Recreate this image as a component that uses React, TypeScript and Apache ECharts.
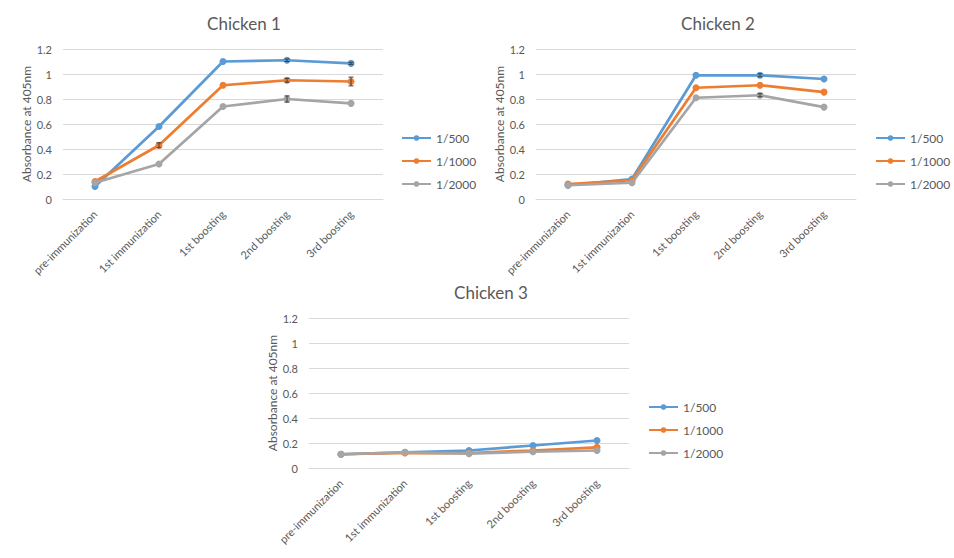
import React, { useEffect, useRef } from "react";
import * as echarts from "echarts";

const categories = ["pre-immunization", "1st immunization", "1st boosting", "2nd boosting", "3rd boosting"];
const seriesNames = ["1/500", "1/1000", "1/2000"];
const chartTitles = ["Chicken 1", "Chicken 2", "Chicken 3"];
const yTicks = { min: 0, max: 1.2, interval: 0.2 };

// Chicken 1
const chicken1_500 = [0.1, 0.58, 1.1, 1.11, 1.085];
const chicken1_1000 = [0.14, 0.43, 0.91, 0.95, 0.94];
const chicken1_2000 = [0.13, 0.28, 0.74, 0.8, 0.765];
const chicken1_500_err = [0, 0, 0, 0.01, 0.008];
const chicken1_1000_err = [0, 0.02, 0, 0.015, 0.035];
const chicken1_2000_err = [0, 0, 0, 0.025, 0];

// Chicken 2
const chicken2_500 = [0.11, 0.16, 0.99, 0.99, 0.96];
const chicken2_1000 = [0.12, 0.15, 0.89, 0.91, 0.855];
const chicken2_2000 = [0.11, 0.13, 0.81, 0.83, 0.735];
const chicken2_500_err = [0, 0, 0, 0.012, 0];
const chicken2_1000_err = [0, 0, 0, 0, 0];
const chicken2_2000_err = [0, 0, 0, 0.012, 0];

// Chicken 3
const chicken3_500 = [0.11, 0.125, 0.14, 0.18, 0.22];
const chicken3_1000 = [0.11, 0.12, 0.12, 0.14, 0.165];
const chicken3_2000 = [0.11, 0.125, 0.115, 0.13, 0.14];
const chicken3_500_err = [0, 0, 0, 0, 0];
const chicken3_1000_err = [0, 0, 0, 0, 0];
const chicken3_2000_err = [0, 0, 0, 0, 0];

const colors = ["#5B9BD5", "#ED7D31", "#A5A5A5"];
const TEXT = "#595959";
const FONT = "Lato, 'Open Sans', sans-serif";

const chartData = [
  { values: [chicken1_500, chicken1_1000, chicken1_2000], errs: [chicken1_500_err, chicken1_1000_err, chicken1_2000_err] },
  { values: [chicken2_500, chicken2_1000, chicken2_2000], errs: [chicken2_500_err, chicken2_1000_err, chicken2_2000_err] },
  { values: [chicken3_500, chicken3_1000, chicken3_2000], errs: [chicken3_500_err, chicken3_1000_err, chicken3_2000_err] },
];

const layouts = [
  { left: 63, top: 49, titleX: 239, legendLeft: 396, legendTop: 127 },
  { left: 536, top: 49, titleX: 713, legendLeft: 870, legendTop: 127 },
  { left: 309, top: 318, titleX: 486, legendLeft: 643, legendTop: 396 },
];

export default function App() {
  const ref = useRef<HTMLDivElement>(null);
  useEffect(() => {
    if (!ref.current) return;
    const chart = echarts.init(ref.current, null, { renderer: "svg" });

    const grid: any[] = [];
    const xAxis: any[] = [];
    const yAxis: any[] = [];
    const title: any[] = [];
    const legend: any[] = [];
    const series: any[] = [];

    layouts.forEach((L, i) => {
      grid.push({ left: L.left, top: L.top, width: 320, height: 150, containLabel: false });
      title.push({
        text: chartTitles[i],
        left: L.titleX,
        top: L.top - 39,
        textAlign: "center",
        textStyle: { fontFamily: FONT, fontSize: 17, fontWeight: "normal", color: TEXT },
      });
      legend.push({
        data: seriesNames,
        orient: "vertical",
        left: L.legendLeft,
        top: L.legendTop,
        itemWidth: 29,
        itemHeight: 7,
        itemGap: 11,
        textStyle: { fontFamily: FONT, fontSize: 12, color: TEXT },
      });
      xAxis.push({
        type: "category",
        gridIndex: i,
        data: categories,
        boundaryGap: true,
        axisLine: { lineStyle: { color: "#D9D9D9" } },
        axisTick: { show: false },
        axisLabel: { rotate: 45, fontFamily: FONT, fontSize: 11, color: TEXT, margin: 13, interval: 0 },
      });
      yAxis.push({
        type: "value",
        gridIndex: i,
        min: yTicks.min,
        max: yTicks.max,
        interval: yTicks.interval,
        name: "Absorbance at 405nm",
        nameLocation: "middle",
        nameGap: 30,
        nameTextStyle: { fontFamily: FONT, fontSize: 12, color: TEXT },
        axisLine: { show: false },
        axisTick: { show: false },
        axisLabel: { fontFamily: FONT, fontSize: 11, color: TEXT, margin: 11 },
        splitLine: { lineStyle: { color: "#D9D9D9" } },
      });
      const d = chartData[i];
      d.values.forEach((vals, k) => {
        series.push({
          type: "line",
          name: seriesNames[k],
          xAxisIndex: i,
          yAxisIndex: i,
          data: vals,
          symbol: "circle",
          symbolSize: 7,
          lineStyle: { width: 2.75, color: colors[k] },
          itemStyle: { color: colors[k] },
          z: 2 + k,
        });
      });
      d.values.forEach((vals, k) => {
        series.push({
          type: "custom",
          name: "err-" + i + "-" + k,
          xAxisIndex: i,
          yAxisIndex: i,
          silent: true,
          z: 10,
          data: vals.map((v, j) => [j, v - d.errs[k][j], v + d.errs[k][j], d.errs[k][j]]),
          encode: { x: 0, y: [1, 2] },
          renderItem: (params: any, api: any) => {
            if (!api.value(3)) return null;
            const x = api.value(0);
            const lo = api.coord([x, api.value(1)]);
            const hi = api.coord([x, api.value(2)]);
            const hw = 2.5;
            const style = { stroke: "#3F3F3F", lineWidth: 1 };
            return {
              type: "group",
              children: [
                { type: "line", shape: { x1: lo[0], y1: lo[1], x2: hi[0], y2: hi[1] }, style },
                { type: "line", shape: { x1: lo[0] - hw, y1: lo[1], x2: lo[0] + hw, y2: lo[1] }, style },
                { type: "line", shape: { x1: hi[0] - hw, y1: hi[1], x2: hi[0] + hw, y2: hi[1] }, style },
              ],
            };
          },
        });
      });
    });

    chart.setOption({
      animation: false,
      backgroundColor: "#FFFFFF",
      textStyle: { fontFamily: FONT },
      title,
      legend,
      grid,
      xAxis,
      yAxis,
      series,
    });
    return () => chart.dispose();
  }, []);

  return (
    <div
      ref={ref}
      style={{ position: "fixed", left: 0, top: 0, width: 954, height: 558, background: "#fff" }}
    />
  );
}
